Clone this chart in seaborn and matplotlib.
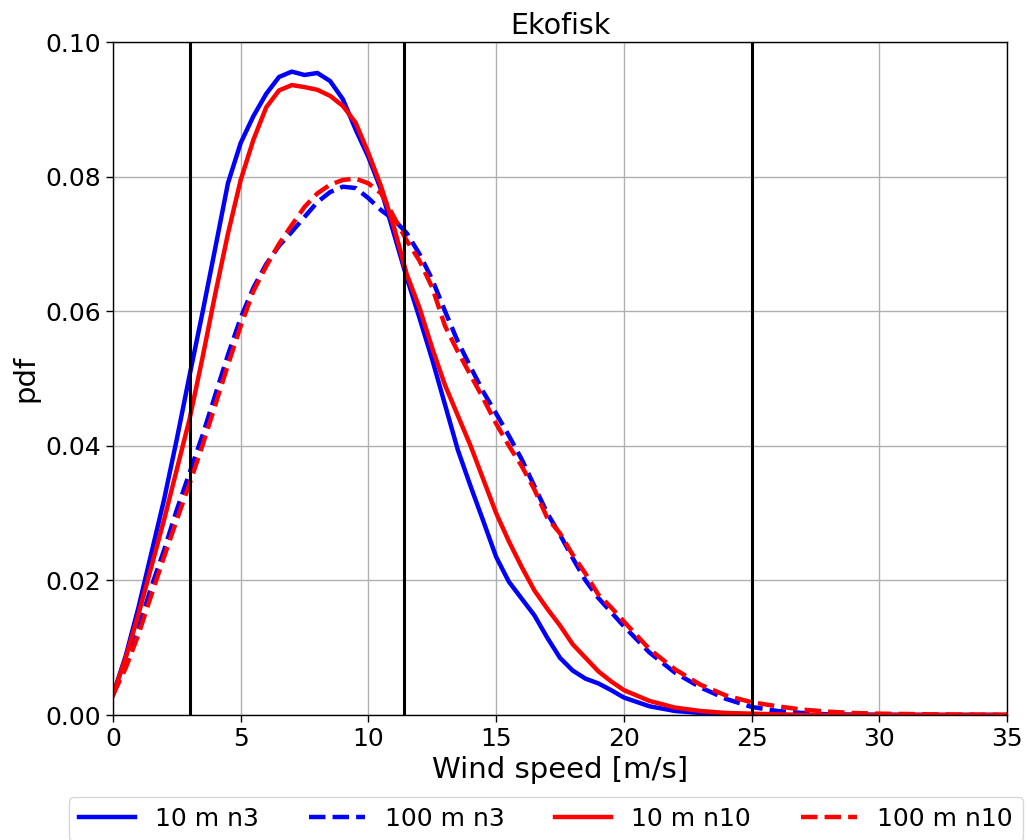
import numpy as np
import pandas as pd
import matplotlib
matplotlib.use("Agg")
import matplotlib.pyplot as plt
import seaborn as sns

# ---- data ----
wind = [0, 0.5, 1, 1.5, 2, 2.5, 3, 3.5, 4, 4.5, 5, 5.5, 6, 6.5, 7, 7.5, 8, 8.5, 9, 9.5,
        10, 10.5, 11, 11.5, 12, 12.5, 13, 13.5, 14, 14.5, 15, 15.5, 16, 16.5, 17, 17.5,
        18, 18.5, 19, 19.5, 20, 21, 22, 23, 24, 25, 26, 27, 28, 29, 30, 32, 35]

pdf_10m_n3 = [0.003, 0.0088, 0.016, 0.024, 0.032, 0.041, 0.0505, 0.0597, 0.0693, 0.0790,
              0.0850, 0.0890, 0.0923, 0.0948, 0.0956, 0.0951, 0.0954, 0.0942, 0.0915, 0.087,
              0.0829, 0.078, 0.0715, 0.065, 0.059, 0.0528, 0.0461, 0.0394, 0.034, 0.0288,
              0.0235, 0.0198, 0.0173, 0.0148, 0.0115, 0.0085, 0.0066, 0.0054, 0.0047, 0.0037,
              0.0026, 0.0013, 0.0006, 0.0003, 0.0001, 0.00005, 0.0, 0.0, 0.0, 0.0, 0.0, 0.0, 0.0]

pdf_100m_n3 = [0.003, 0.0075, 0.013, 0.019, 0.0245, 0.0305, 0.036, 0.0415, 0.0475, 0.0535,
               0.059, 0.0635, 0.067, 0.0697, 0.0718, 0.074, 0.0762, 0.0777, 0.0785, 0.0783,
               0.0768, 0.075, 0.0736, 0.0716, 0.0685, 0.0647, 0.060, 0.0555, 0.0517, 0.048,
               0.0448, 0.0415, 0.038, 0.034, 0.030, 0.0268, 0.0233, 0.020, 0.0174, 0.0153,
               0.0132, 0.0093, 0.0063, 0.0041, 0.0024, 0.0012, 0.0006, 0.0003, 0.0001, 0.00005,
               0.00003, 0.0, 0.0]

pdf_10m_n10 = [0.003, 0.0085, 0.015, 0.022, 0.029, 0.0365, 0.044, 0.053, 0.0625, 0.0715,
               0.0795, 0.0855, 0.0903, 0.0928, 0.0936, 0.0933, 0.0929, 0.0920, 0.0905, 0.088,
               0.0835, 0.0785, 0.0725, 0.0655, 0.0605, 0.0545, 0.049, 0.0445, 0.040, 0.035,
               0.030, 0.0258, 0.022, 0.0185, 0.0158, 0.0133, 0.0105, 0.0085, 0.0065, 0.005,
               0.0037, 0.0021, 0.0011, 0.0006, 0.0003, 0.0002, 0.0001, 0.0, 0.0, 0.0, 0.0, 0.0, 0.0]

pdf_100m_n10 = [0.003, 0.007, 0.012, 0.0178, 0.0235, 0.029, 0.0344, 0.040, 0.046, 0.052,
                0.0578, 0.063, 0.0667, 0.070, 0.0728, 0.0755, 0.0775, 0.0788, 0.0795, 0.0797,
                0.079, 0.0775, 0.074, 0.0705, 0.0675, 0.0635, 0.0578, 0.054, 0.0505, 0.047,
                0.0433, 0.040, 0.037, 0.0335, 0.0293, 0.027, 0.0238, 0.021, 0.0179, 0.016,
                0.0139, 0.0098, 0.0068, 0.0045, 0.0029, 0.0019, 0.0013, 0.0008, 0.0005, 0.0003,
                0.0002, 0.0001, 0.00003]

series_labels = ["10 m n3", "100 m n3", "10 m n10", "100 m n10"]
vlines_x = [3, 11.4, 25]
x_ticks = [0, 5, 10, 15, 20, 25, 30, 35]
y_ticks = [0.00, 0.02, 0.04, 0.06, 0.08, 0.10]

# ---- plot ----
fig = plt.figure(figsize=(10.27, 8.4), dpi=100)
ax = fig.add_axes([0.110, 0.1488, 0.8705, 0.8012])

styles = [("blue", "-"), ("blue", "--"), ("red", "-"), ("red", "--")]
data = [pdf_10m_n3, pdf_100m_n3, pdf_10m_n10, pdf_100m_n10]
for lab, vals, (col, ls) in zip(series_labels, data, styles):
    sns.lineplot(x=wind, y=vals, ax=ax, color=col, linestyle=ls, linewidth=3.2,
                 label=lab, legend=False)

for xv in vlines_x:
    ax.axvline(xv, color="black", linewidth=2.2, zorder=3)

ax.set_xlim(0, 35)
ax.set_ylim(0, 0.10)
ax.set_xticks(x_ticks)
ax.set_yticks(y_ticks)
ax.set_yticklabels([f"{v:.2f}" for v in y_ticks])
ax.grid(True, color="#b0b0b0", linewidth=1.0)
ax.set_axisbelow(True)
ax.tick_params(labelsize=18, length=5, width=1)
for s in ax.spines.values():
    s.set_color("black")
    s.set_linewidth(1.0)

ax.set_xlabel("Wind speed [m/s]", fontsize=21)
ax.set_ylabel("pdf", fontsize=21)
ax.set_title("Ekofisk", fontsize=20.5)

handles, labels = ax.get_legend_handles_labels()
fig.legend(handles, labels, loc="upper center", bbox_to_anchor=(0.5316, 0.0512),
           borderaxespad=0.0, ncol=4, fontsize=18, frameon=True,
           handlelength=2.25, columnspacing=2.0)

fig.savefig("out.png", dpi=100)
